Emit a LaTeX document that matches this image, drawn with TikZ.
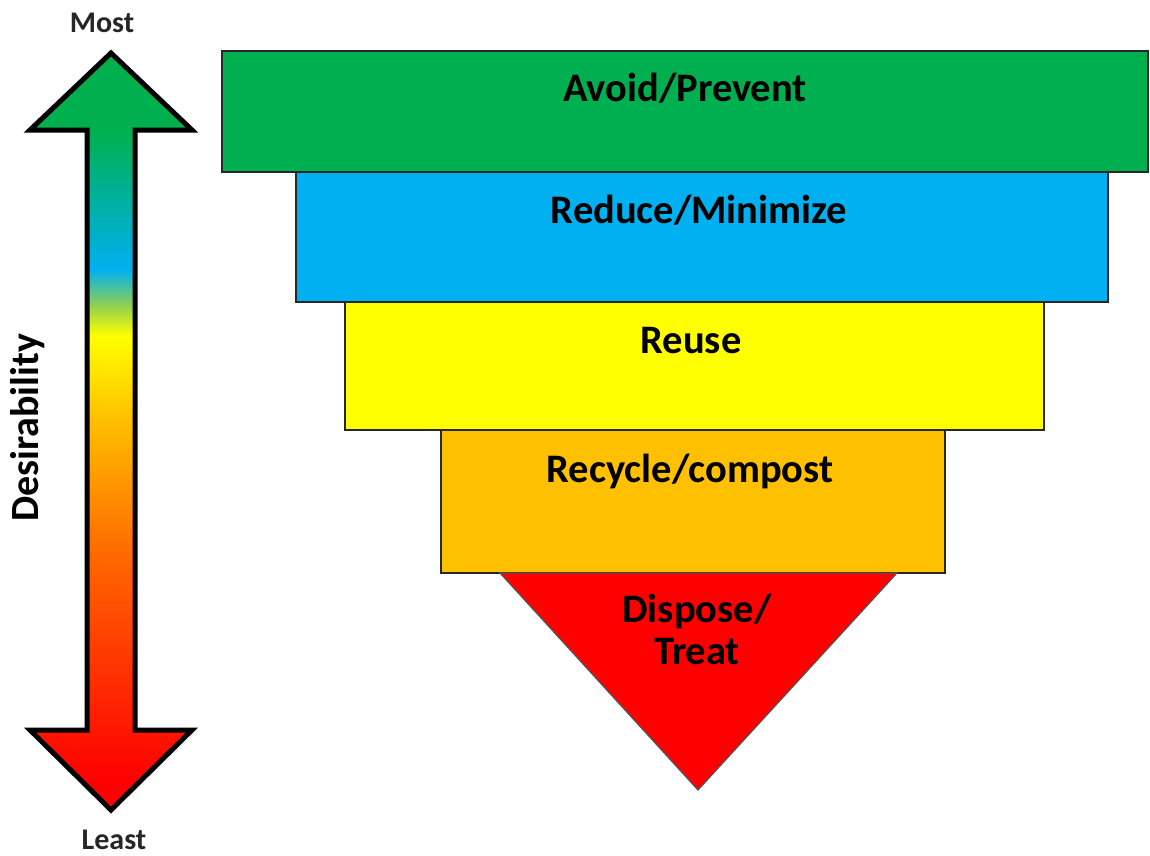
\documentclass[tikz,border=0pt]{standalone}
\usepackage{fontspec}
\setmainfont{Carlito}
\definecolor{cgreen}{RGB}{0,176,80}
\definecolor{cblue}{RGB}{0,176,240}
\definecolor{cyellow}{RGB}{255,255,0}
\definecolor{corange}{RGB}{255,192,0}
\definecolor{cred}{RGB}{255,0,0}
\definecolor{edge}{RGB}{40,40,40}
\pgfdeclareverticalshading{desir}{100bp}{%
  rgb(0bp)=(1,0,0);
  rgb(27bp)=(1,0,0);
  rgb(41.6bp)=(1,0.4,0);
  rgb(50.75bp)=(1,0.75,0);
  rgb(56.3bp)=(1,1,0);
  rgb(58.3bp)=(0.57,0.82,0.31);
  rgb(60.7bp)=(0,0.69,0.94);
  rgb(69.8bp)=(0,0.69,0.31);
  rgb(100bp)=(0,0.69,0.31)}
\tikzset{
  layer/.style={draw=edge, line width=1.6pt, anchor=north west, inner sep=0pt, outer sep=0pt},
  lbl/.style={font=\bfseries\fontsize{40.5}{42}\selectfont, text=black, anchor=base, inner sep=0pt},
  endlbl/.style={font=\bfseries\fontsize{30}{32}\selectfont, text=black!85, anchor=base, inner sep=0pt}
}
\begin{document}
\begin{tikzpicture}[x=1pt,y=-1pt]
\useasboundingbox (0,0) rectangle (1150,855);
% layers
\node[layer, fill=cgreen, minimum width=926pt, minimum height=121pt] (avoid) at (222,51) {};
\node[layer, fill=cblue, minimum width=812pt, minimum height=130pt] (reduce) at (296,172) {};
\node[layer, fill=cyellow, minimum width=699pt, minimum height=128pt] (reuse) at (345,302) {};
\node[layer, fill=corange, minimum width=504pt, minimum height=143pt] (recycle) at (441,430) {};
\coordinate (tl) at (500,573);
\coordinate (tr) at (897,573);
\coordinate (tip) at (698,790);
\draw[fill=cred, draw=edge!80, line width=1.2pt, line join=miter] (tl) -- (tr) -- (tip) -- cycle;
% labels
\node[lbl] (tavoid) at (685,101) {Avoid/Prevent};
\node[lbl] (treduce) at (699,223) {Reduce/Minimize};
\node[lbl] (treuse) at (691,353) {Reuse};
\node[lbl] (trecycle) at (690,482) {Recycle/compost};
\node[lbl] (tdispose) at (697,622) {Dispose/};
\node[lbl] (ttreat) at (697,664) {Treat};
% arrow
\draw[shading=desir, draw=black, line width=5pt, line join=miter]
  (111,53) -- (192,130) -- (135,130) -- (135,730) -- (192,730) -- (111,810)
  -- (30,730) -- (87,730) -- (87,130) -- (30,130) -- cycle;
\node[endlbl] (most) at (102,32) {Most};
\node[endlbl] (least) at (114,849) {Least};
\node[font=\bfseries\fontsize{40}{42}\selectfont, rotate=90, inner sep=0pt] (desirability) at (28,428) {Desirability};
\end{tikzpicture}
\end{document}
